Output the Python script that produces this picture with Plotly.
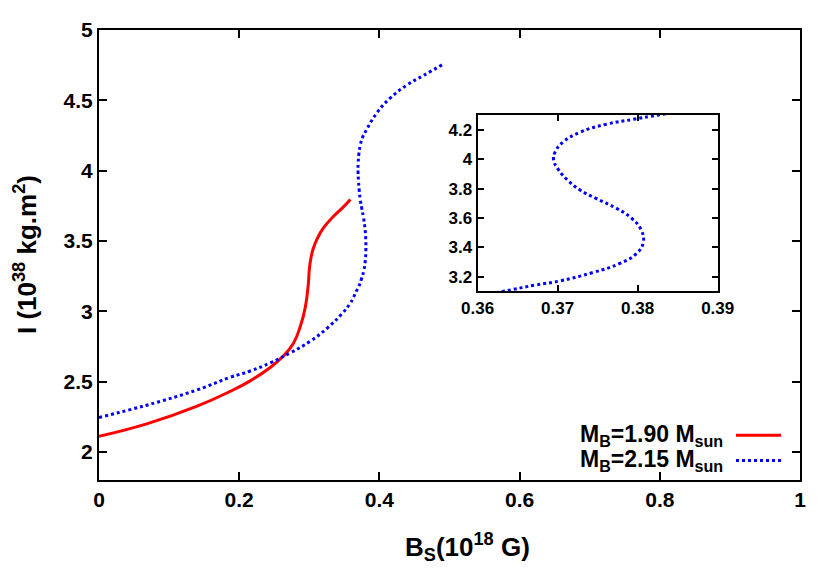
import plotly.graph_objects as go

# M_B = 1.90 M_sun
b_red = [0.0, 0.068, 0.14, 0.187, 0.2157, 0.2443, 0.2633, 0.2776, 0.2871,
         0.2943, 0.2985, 0.3002, 0.3022, 0.3055, 0.311, 0.3204, 0.3347,
         0.349, 0.3586]
i_red = [2.111, 2.199, 2.325, 2.43, 2.505, 2.6, 2.683, 2.775, 2.891,
         3.029, 3.19, 3.306, 3.375, 3.444, 3.513, 3.594, 3.675,
         3.744, 3.795]

# M_B = 2.15 M_sun
b_blue = [0.0, 0.068, 0.14, 0.187, 0.2157, 0.2443, 0.2729, 0.3014, 0.3253,
          0.3467, 0.3575, 0.3631, 0.3673, 0.3702, 0.3744, 0.3777, 0.3798,
          0.3807, 0.3804, 0.3792, 0.3773, 0.3748, 0.3728, 0.3712, 0.3701,
          0.3695, 0.3697, 0.3707, 0.3728, 0.3761, 0.3795, 0.3826, 0.3967,
          0.4157, 0.4395, 0.4633, 0.4919]
i_blue = [2.245, 2.332, 2.441, 2.53, 2.575, 2.633, 2.704, 2.787, 2.879,
          2.983, 3.05, 3.1, 3.145, 3.171, 3.229, 3.289, 3.356,
          3.433, 3.523, 3.6, 3.667, 3.733, 3.79, 3.86, 3.929,
          3.995, 4.05, 4.117, 4.183, 4.238, 4.271, 4.3, 4.413,
          4.517, 4.609, 4.678, 4.759]

labels = ["M<sub>B</sub>=1.90 M<sub>sun</sub>", "M<sub>B</sub>=2.15 M<sub>sun</sub>"]
RED, BLUE = "#ff0000", "#0000ff"
FONT = "Liberation Sans, Arial, sans-serif"


def _axis(**kw):
    d = dict(showline=True, linewidth=2, linecolor="black", mirror="allticks",
             ticks="inside", ticklen=8, tickwidth=2, tickcolor="black",
             showgrid=False, zeroline=False)
    d.update(kw)
    return d


def _bold(vals):
    return [f"<b>{v}</b>" for v in vals]


fig = go.Figure()
fig.add_trace(go.Scatter(x=b_red, y=i_red, mode="lines", line_shape="spline",
                         line=dict(color=RED, width=3, smoothing=1.3), showlegend=False))
fig.add_trace(go.Scatter(x=b_blue, y=i_blue, mode="lines", line_shape="spline",
                         line=dict(color=BLUE, width=3, dash="dot", smoothing=1.3),
                         showlegend=False))
# inset: zoom on the S-shaped part of the blue curve
fig.add_trace(go.Scatter(x=b_blue, y=i_blue, mode="lines", line_shape="spline",
                         line=dict(color=BLUE, width=3, dash="dot", smoothing=1.3),
                         showlegend=False, xaxis="x2", yaxis="y2"))

# page body has an 8px margin, so the figure is shrunk by 8px
fig.update_layout(
    width=822, height=573,
    margin=dict(l=91, r=30, t=10, b=101),
    plot_bgcolor="white", paper_bgcolor="white",
    font=dict(family=FONT, color="black", size=21),
    xaxis=_axis(range=[0, 1], tickvals=[0, 0.2, 0.4, 0.6, 0.8, 1],
                ticktext=_bold(["0", "0.2", "0.4", "0.6", "0.8", "1"]), domain=[0, 1]),
    yaxis=_axis(range=[1.8, 5], tickvals=[2, 2.5, 3, 3.5, 4, 4.5, 5],
                ticktext=_bold(["2", "2.5", "3", "3.5", "4", "4.5", "5"]), domain=[0, 1]),
    xaxis2=_axis(range=[0.36, 0.39], tickvals=[0.36, 0.37, 0.38, 0.39],
                 ticktext=_bold(["0.36", "0.37", "0.38", "0.39"]),
                 domain=[0.540, 0.8826], anchor="y2", ticklen=6, tickfont=dict(size=17)),
    yaxis2=_axis(range=[3.1, 4.3], tickvals=[3.2, 3.4, 3.6, 3.8, 4.0, 4.2],
                 ticktext=_bold(["3.2", "3.4", "3.6", "3.8", "4", "4.2"]),
                 domain=[0.4189, 0.811], anchor="x2", ticklen=6, tickfont=dict(size=17)),
)

# axis titles
fig.add_annotation(text="<b>B<sub>S</sub>(10<sup>18</sup> G)</b>", xref="paper", yref="paper",
                   x=0.526, y=-0.1495, xanchor="center", yanchor="middle",
                   showarrow=False, font=dict(size=26))
fig.add_annotation(text="<b>I (10<sup>38</sup> kg.m<sup>2</sup>)</b>", xref="paper", yref="paper",
                   x=-0.1055, y=0.5, xanchor="center", yanchor="middle", textangle=-90,
                   showarrow=False, font=dict(size=26))

# legend: text on the left, line sample on the right
for lab, col, dash, yy in [(labels[0], RED, "solid", 0.0997), (labels[1], BLUE, "dot", 0.0433)]:
    fig.add_annotation(text=f"<b>{lab}</b>", xref="paper", yref="paper", x=0.893, y=yy,
                       xanchor="right", yanchor="middle", showarrow=False, font=dict(size=23))
    fig.add_shape(type="line", xref="paper", yref="paper", x0=0.9087, x1=0.9729, y0=yy, y1=yy,
                  line=dict(color=col, width=3, dash=dash))

fig.write_html("out.html")
